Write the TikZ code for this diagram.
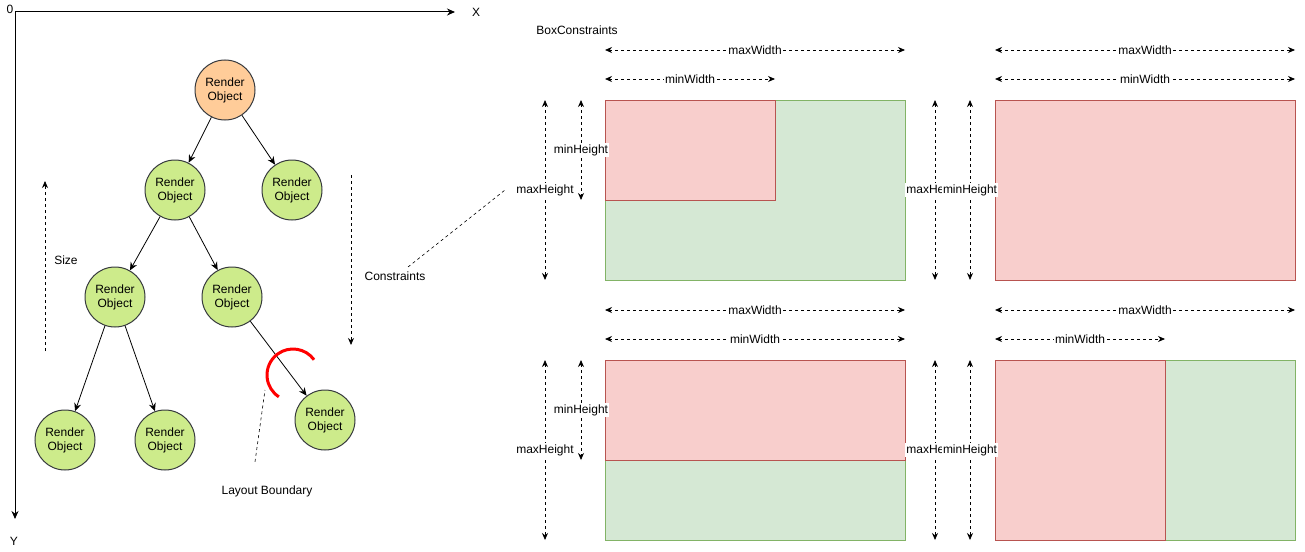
\documentclass[tikz,border=0pt]{standalone}
\usepackage{fontspec}
\setmainfont{Liberation Sans}
\usetikzlibrary{arrows.meta}
\definecolor{rootfill}{HTML}{FFCC99}
\definecolor{nodefill}{HTML}{CDEB8B}
\definecolor{nodeline}{HTML}{36393D}
\definecolor{okfill}{HTML}{D5E8D4}
\definecolor{okline}{HTML}{82B366}
\definecolor{badfill}{HTML}{F8CECC}
\definecolor{badline}{HTML}{B85450}

\begin{document}
\begin{tikzpicture}[x=1pt,y=-1pt,font=\fontsize{12}{14}\selectfont,
  robj/.style={circle,draw=nodeline,fill=nodefill,line width=1pt,minimum size=60pt,inner sep=0pt,align=center},
  edge/.style={line width=0.8pt,-{Stealth[length=8pt,width=7pt]}},
  hint/.style={line width=0.8pt,dash pattern=on 3pt off 3pt,-{Stealth[length=7pt,width=6pt]}},
  dim/.style={line width=0.8pt,dash pattern=on 3pt off 3pt,{Stealth[length=7pt,width=6pt]}-{Stealth[length=7pt,width=6pt]}},
  dimlabel/.style={fill=white,inner sep=1pt},
  okbox/.style={draw=okline,fill=okfill,line width=1pt},
  badbox/.style={draw=badline,fill=badfill,line width=1pt}]
  \useasboundingbox (0,0) rectangle (1305,551);
  % axes
  \coordinate (origin) at (15,12);
  \coordinate (xend) at (455,12);
  \coordinate (yend) at (15,519);
  \draw[line width=1pt,-{Stealth[length=8pt,width=7pt]}] (origin) -- (xend);
  \draw[line width=1pt,-{Stealth[length=8pt,width=7pt]}] (origin) -- (yend);
  \node (zero) at (10,9) {0};
  \node (xlabel) at (476,12) {X};
  \node (ylabel) at (14,541) {Y};
  % render tree
  \node[robj,fill=rootfill] (root) at (225,90) {Render\\Object};
  \node[robj] (left) at (175,190) {Render\\Object};
  \node[robj] (right) at (292,190) {Render\\Object};
  \node[robj] (leftleft) at (115,297) {Render\\Object};
  \node[robj] (leftright) at (232,297) {Render\\Object};
  \node[robj] (leafa) at (65,440) {Render\\Object};
  \node[robj] (leafb) at (165,440) {Render\\Object};
  \node[robj] (leafc) at (325,420) {Render\\Object};
  \draw[edge] (root) -- (left);
  \draw[edge] (root) -- (right);
  \draw[edge] (left) -- (leftleft);
  \draw[edge] (left) -- (leftright);
  \draw[edge] (leftleft) -- (leafa);
  \draw[edge] (leftleft) -- (leafb);
  \draw[edge] (leftright) -- (leafc);
  % size and constraints
  \coordinate (sizelow) at (45,351);
  \coordinate (sizehigh) at (45,181);
  \draw[hint] (sizelow) -- (sizehigh);
  \node (size) at (66,260) {Size};
  \coordinate (conshigh) at (351,175);
  \coordinate (conslow) at (351,345);
  \draw[hint] (conshigh) -- (conslow);
  \node (constraints) at (395,276) {Constraints};
  \coordinate (boxref) at (505,190);
  \draw[line width=0.6pt,dash pattern=on 3pt off 3pt] (408,267) -- (boxref);
  % layout boundary
  \draw[red,line width=3pt] (293,375) ++(-36:26) arc[start angle=-36,end angle=-237,radius=26];
  \node (boundary) at (267,491) {Layout Boundary};
  \draw[line width=0.6pt,dash pattern=on 3pt off 3pt] (boundary.north) ++(-12,-20) -- (265,390);
  % box constraints
  \node (boxconstraints) at (577,30) {BoxConstraints};
  \draw[okbox] (605,100) rectangle (905,280);
  \draw[badbox] (605,100) rectangle (775,200);
  \draw[badbox] (995,100) rectangle (1295,280);
  \draw[okbox] (605,360) rectangle (905,540);
  \draw[badbox] (605,360) rectangle (905,460);
  \draw[okbox] (995,360) rectangle (1295,540);
  \draw[badbox] (995,360) rectangle (1165,540);
  % widths
  \draw[dim] (605,50) -- node[dimlabel] {maxWidth} (905,50);
  \draw[dim] (605,79) -- node[dimlabel] {minWidth} (775,79);
  \draw[dim] (995,50) -- node[dimlabel] {maxWidth} (1295,50);
  \draw[dim] (995,79) -- node[dimlabel] {minWidth} (1295,79);
  \draw[dim] (605,310) -- node[dimlabel] {maxWidth} (905,310);
  \draw[dim] (605,339) -- node[dimlabel] {minWidth} (905,339);
  \draw[dim] (995,310) -- node[dimlabel] {maxWidth} (1295,310);
  \draw[dim] (995,339) -- node[dimlabel] {minWidth} (1165,339);
  % heights
  \draw[dim] (545,100) -- node[dimlabel] {maxHeight} (545,280);
  \draw[dim] (581,100) -- node[dimlabel] {minHeight} (581,200);
  \draw[dim] (935,100) -- node[dimlabel] {maxHeight} (935,280);
  \draw[dim] (970,100) -- node[dimlabel] {minHeight} (970,280);
  \draw[dim] (545,360) -- node[dimlabel] {maxHeight} (545,540);
  \draw[dim] (581,360) -- node[dimlabel] {minHeight} (581,460);
  \draw[dim] (935,360) -- node[dimlabel] {maxHeight} (935,540);
  \draw[dim] (970,360) -- node[dimlabel] {minHeight} (970,540);
\end{tikzpicture}
\end{document}
